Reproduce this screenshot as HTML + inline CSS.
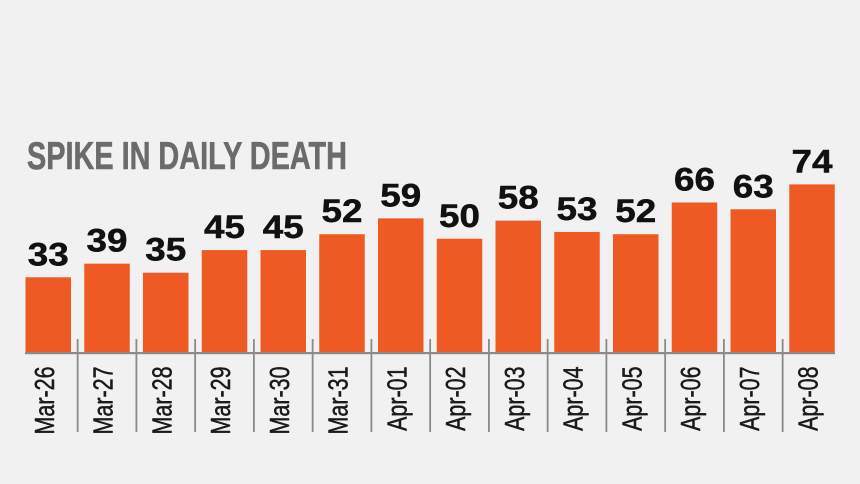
<!DOCTYPE html>
<html>
<head>
<meta charset="utf-8">
<style>
html,body{margin:0;padding:0;background:#f1f1f1;}
svg{display:block;}
</style>
</head>
<body>
<svg width="860" height="484" viewBox="0 0 860 484" xmlns="http://www.w3.org/2000/svg">
<rect x="0" y="0" width="860" height="484" fill="#f1f1f1"/>
<text x="27" y="169" font-family="Liberation Sans, sans-serif" font-weight="bold" font-size="38.5" fill="#6b6b6b" stroke="#6b6b6b" stroke-width="0.6" textLength="320" lengthAdjust="spacingAndGlyphs">SPIKE IN DAILY DEATH</text>

<g fill="#ef5a24">
<rect x="25.5" y="277.26" width="45.5" height="74.74"/>
<rect x="84.25" y="263.67" width="45.5" height="88.33"/>
<rect x="143" y="272.73" width="45.5" height="79.27"/>
<rect x="201.75" y="250.08" width="45.5" height="101.92"/>
<rect x="260.5" y="250.08" width="45.5" height="101.92"/>
<rect x="319.25" y="234.22" width="45.5" height="117.78"/>
<rect x="378" y="218.37" width="45.5" height="133.63"/>
<rect x="436.75" y="238.75" width="45.5" height="113.25"/>
<rect x="495.5" y="220.63" width="45.5" height="131.37"/>
<rect x="554.25" y="231.96" width="45.5" height="120.04"/>
<rect x="613" y="234.22" width="45.5" height="117.78"/>
<rect x="671.75" y="202.51" width="45.5" height="149.49"/>
<rect x="730.5" y="209.3" width="45.5" height="142.7"/>
<rect x="789.25" y="184.39" width="45.5" height="167.61"/>
</g>

<rect x="25" y="352" width="810" height="2.2" fill="#8a8a8a"/>
<g stroke="#8a8a8a" stroke-width="1.8">
<line x1="77.65" y1="339" x2="77.65" y2="432"/>
<line x1="136.4" y1="339" x2="136.4" y2="432"/>
<line x1="195.15" y1="339" x2="195.15" y2="432"/>
<line x1="253.9" y1="339" x2="253.9" y2="432"/>
<line x1="312.65" y1="339" x2="312.65" y2="432"/>
<line x1="371.4" y1="339" x2="371.4" y2="432"/>
<line x1="430.15" y1="339" x2="430.15" y2="432"/>
<line x1="488.9" y1="339" x2="488.9" y2="432"/>
<line x1="547.65" y1="339" x2="547.65" y2="432"/>
<line x1="606.4" y1="339" x2="606.4" y2="432"/>
<line x1="665.15" y1="339" x2="665.15" y2="432"/>
<line x1="723.9" y1="339" x2="723.9" y2="432"/>
<line x1="782.65" y1="339" x2="782.65" y2="432"/>
</g>

<g font-family="Liberation Sans, sans-serif" font-weight="bold" font-size="32" fill="#111" stroke="#111" stroke-width="0.5" text-anchor="middle">
<text transform="translate(48.25,265.26) scale(1.15,1)">33</text>
<text transform="translate(107,251.67) scale(1.15,1)">39</text>
<text transform="translate(165.75,260.73) scale(1.15,1)">35</text>
<text transform="translate(224.5,238.08) scale(1.15,1)">45</text>
<text transform="translate(283.25,238.08) scale(1.15,1)">45</text>
<text transform="translate(342,222.22) scale(1.15,1)">52</text>
<text transform="translate(400.75,206.37) scale(1.15,1)">59</text>
<text transform="translate(459.5,226.75) scale(1.15,1)">50</text>
<text transform="translate(518.25,208.63) scale(1.15,1)">58</text>
<text transform="translate(577,219.96) scale(1.15,1)">53</text>
<text transform="translate(635.75,222.22) scale(1.15,1)">52</text>
<text transform="translate(694.5,190.51) scale(1.15,1)">66</text>
<text transform="translate(753.25,197.3) scale(1.15,1)">63</text>
<text transform="translate(812,172.39) scale(1.15,1)">74</text>
</g>

<g font-family="Liberation Sans, sans-serif" font-size="27.5" fill="#1a1a1a" stroke="#1a1a1a" stroke-width="0.5" text-anchor="end">
<text transform="translate(53.75,366.5) rotate(-90) scale(0.78,1)">Mar-26</text>
<text transform="translate(112.5,366.5) rotate(-90) scale(0.78,1)">Mar-27</text>
<text transform="translate(171.25,366.5) rotate(-90) scale(0.78,1)">Mar-28</text>
<text transform="translate(230,366.5) rotate(-90) scale(0.78,1)">Mar-29</text>
<text transform="translate(288.75,366.5) rotate(-90) scale(0.78,1)">Mar-30</text>
<text transform="translate(347.5,366.5) rotate(-90) scale(0.78,1)">Mar-31</text>
<text transform="translate(406.25,366.5) rotate(-90) scale(0.78,1)">Apr-01</text>
<text transform="translate(465,366.5) rotate(-90) scale(0.78,1)">Apr-02</text>
<text transform="translate(523.75,366.5) rotate(-90) scale(0.78,1)">Apr-03</text>
<text transform="translate(582.5,366.5) rotate(-90) scale(0.78,1)">Apr-04</text>
<text transform="translate(641.25,366.5) rotate(-90) scale(0.78,1)">Apr-05</text>
<text transform="translate(700,366.5) rotate(-90) scale(0.78,1)">Apr-06</text>
<text transform="translate(758.75,366.5) rotate(-90) scale(0.78,1)">Apr-07</text>
<text transform="translate(817.5,366.5) rotate(-90) scale(0.78,1)">Apr-08</text>
</g>
</svg>
</body>
</html>
